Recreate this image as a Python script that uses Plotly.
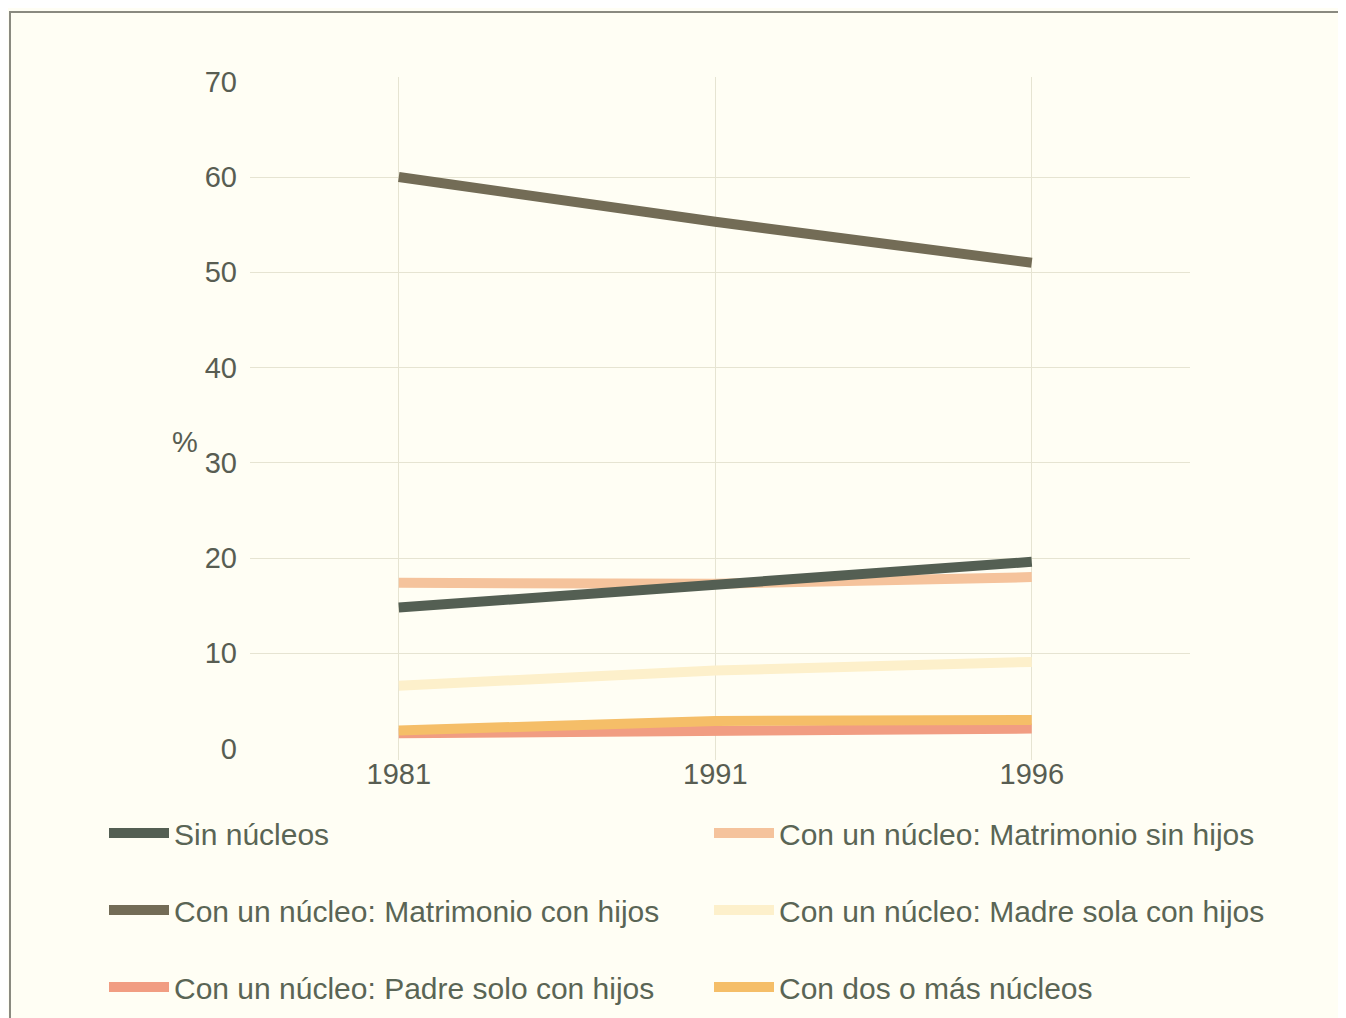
import plotly.graph_objects as go

years = ["1981", "1991", "1996"]
series_names = [
    "Sin núcleos",
    "Con un núcleo: Matrimonio sin hijos",
    "Con un núcleo: Matrimonio con hijos",
    "Con un núcleo: Madre sola con hijos",
    "Con un núcleo: Padre solo con hijos",
    "Con dos o más núcleos",
]
sin_nucleos = [14.8, 17.1, 19.6]
matrimonio_sin_hijos = [17.4, 17.3, 18.0]
matrimonio_con_hijos = [60.0, 55.3, 51.0]
madre_sola = [6.6, 8.2, 9.1]
padre_solo = [1.6, 1.9, 2.1]
dos_o_mas = [1.9, 2.9, 3.0]
y_ticks = [0, 10, 20, 30, 40, 50, 60, 70]
grid_ticks = [10, 20, 30, 40, 50, 60]

values = [sin_nucleos, matrimonio_sin_hijos, matrimonio_con_hijos, madre_sola, padre_solo, dos_o_mas]
colors = ["#545f53", "#f5c39c", "#736c56", "#fdf0cb", "#f19d82", "#f5be68"]

O = 8  # page body offset
W, H = 1346 - O, 1018 - O
# plot area in page pixels
PX0, PX1, PY0, PY1 = 250, 1190, 77, 760
L, R, T, B = PX0 - O, (1346 - PX1), PY0 - O, (1018 - PY1)
PW, PH = PX1 - PX0, PY1 - PY0

def px_x(px):
    return (px - PX0) / PW

def px_y(py):
    return (PY1 - py) / PH

BG = "#fffef4"
TXT = "#5a6555"
TICK = "#585d52"
FONT = "Liberation Sans, Arial, sans-serif"

# legend positions in page pixels (column x, row y)
leg_pos = [(104, 833), (709, 833), (104, 910), (709, 910), (104, 987), (709, 987)]
draw_order = [3, 1, 0, 2, 4, 5]

fig = go.Figure()
fig.add_trace(go.Scatter(x=years, y=[None, None, None], yaxis="y2", showlegend=False, hoverinfo="skip"))
for i in draw_order:
    lname = "legend" if i == 0 else f"legend{i+1}"
    fig.add_trace(go.Scatter(
        x=years, y=values[i], mode="lines", name=series_names[i],
        line=dict(color=colors[i], width=10),
        legend=lname,
    ))

legends = {}
for i, (lx, ly) in enumerate(leg_pos):
    lname = "legend" if i == 0 else f"legend{i+1}"
    legends[lname] = dict(
        x=(lx - O) / W, y=1 - (ly - O) / H, xref="container", yref="container",
        xanchor="left", yanchor="middle", bgcolor="rgba(0,0,0,0)",
        font=dict(family=FONT, size=30, color=TXT), itemwidth=60,
    )

fig.update_layout(
    width=W, height=H,
    margin=dict(l=L, r=R, t=T, b=B, autoexpand=False),
    paper_bgcolor=BG, plot_bgcolor=BG,
    font=dict(family=FONT, size=29, color=TICK),
    xaxis=dict(type="category", range=[-0.47, 2.5], showgrid=True, gridcolor="#e6e4d2",
               gridwidth=1, showline=False, zeroline=False, ticks="", tickangle=0,
               ticklabelstandoff=-6, tickfont=dict(size=29, color=TICK)),
    yaxis=dict(range=[-1.2, 70.5], tickvals=y_ticks, showgrid=False, zeroline=False,
               showline=False, ticks="", ticklabelstandoff=12,
               tickfont=dict(size=29, color=TICK)),
    yaxis2=dict(range=[-1.2, 70.5], overlaying="y", tickvals=grid_ticks, showgrid=True,
                gridcolor="#e6e4d2", gridwidth=1, showticklabels=False, zeroline=False,
                showline=False, ticks=""),
    showlegend=True,
    **legends,
)

fig.add_annotation(x=px_x(185), y=px_y(442), xref="paper", yref="paper", text="%",
                   xanchor="center", yanchor="middle",
                   showarrow=False, font=dict(size=29, color=TICK))

fig.add_shape(type="rect", xref="paper", yref="paper",
              x0=px_x(10), y0=px_y(1040), x1=px_x(1370), y1=px_y(12),
              line=dict(color="#8a8a80", width=2), fillcolor="rgba(0,0,0,0)", layer="below")

fig.write_html("out.html")
